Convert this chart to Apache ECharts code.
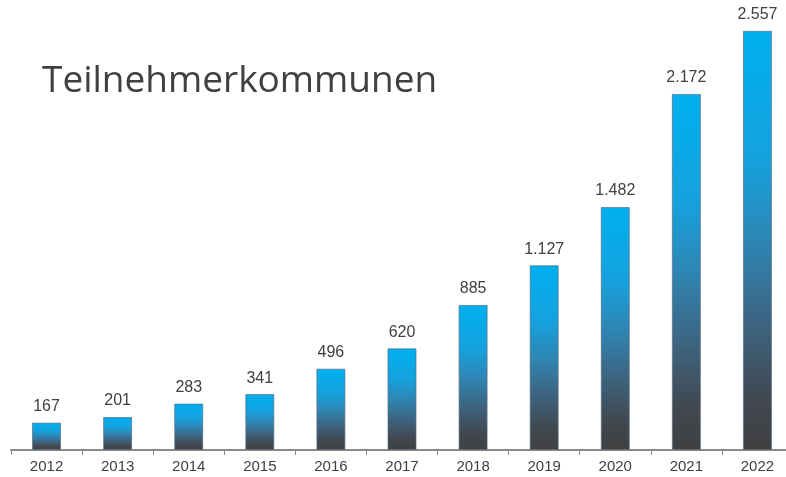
<!DOCTYPE html>
<html>
<head>
<meta charset="utf-8">
<script src="https://cdn.jsdelivr.net/npm/echarts@6/dist/echarts.min.js"></script>
<style>
  html, body { margin: 0; padding: 0; background: #fff; }
  #chart { width: 786px; height: 477px; }
</style>
</head>
<body>
<div id="chart"></div>
<script>
var years = ['2012', '2013', '2014', '2015', '2016', '2017', '2018', '2019', '2020', '2021', '2022'];
var communes = [167, 201, 283, 341, 496, 620, 885, 1127, 1482, 2172, 2557];

// German thousands separator
function fmt(v) {
    return String(v).replace(/\B(?=(\d{3})+(?!\d))/g, '.');
}

var chart = echarts.init(document.getElementById('chart'));
var option = {
    animation: false,
    title: {
        text: 'Teilnehmerkommunen',
        left: 37,
        top: 58,
        textStyle: {
            fontFamily: 'Open Sans',
            fontWeight: 'normal',
            fontSize: 37,
            color: '#404040'
        }
    },
    grid: {
        left: 11,
        top: 0,
        width: 782,
        height: 450,
        outerBoundsMode: 'none',
        containLabel: false
    },
    xAxis: {
        type: 'category',
        data: years,
        axisLine: { lineStyle: { color: '#8a8a8a', width: 2 } },
        axisTick: { show: true, length: 5, lineStyle: { color: '#8a8a8a', width: 1 } },
        axisLabel: {
            color: '#404040',
            fontFamily: 'Liberation Sans',
            fontSize: 15,
            margin: 9
        }
    },
    yAxis: {
        type: 'value',
        min: 0,
        max: 2745,
        show: false,
        splitLine: { show: false }
    },
    series: [{
        type: 'bar',
        data: communes,
        barWidth: 29,
        itemStyle: {
            borderColor: 'rgba(90,110,130,0.7)',
            borderWidth: 1,
            color: new echarts.graphic.LinearGradient(0, 0, 0, 1, [
                { offset: 0, color: '#00b0f0' },
                { offset: 0.3, color: '#15a2de' },
                { offset: 0.5, color: '#2e86b4' },
                { offset: 0.7, color: '#3d6480' },
                { offset: 0.88, color: '#414850' },
                { offset: 1, color: '#404040' }
            ])
        },
        label: {
            show: true,
            position: 'top',
            distance: 8,
            color: '#404040',
            fontFamily: 'Liberation Sans',
            fontSize: 16,
            formatter: function (p) { return fmt(p.value); }
        }
    }]
};
chart.setOption(option);
</script>
</body>
</html>
